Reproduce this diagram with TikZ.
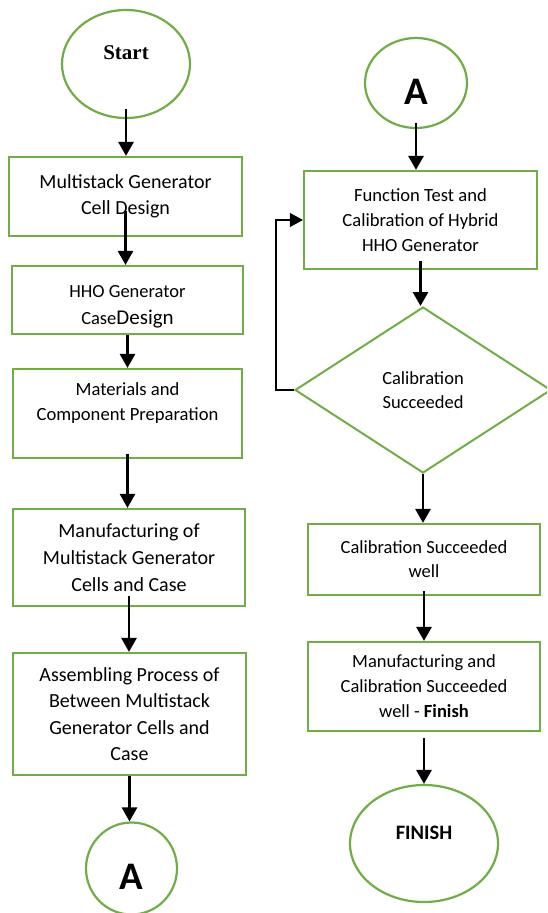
\documentclass[tikz,border=0pt]{standalone}
\usepackage{fontspec}
\setmainfont{Carlito}
\newfontfamily\startfont{Liberation Serif}
\usetikzlibrary{shapes.geometric,arrows.meta}

\definecolor{boxgreen}{RGB}{112,173,71}
\tikzset{
	stepbox/.style={draw=boxgreen,line width=2.2pt,rectangle,align=center,inner sep=0pt},
	term/.style={draw=boxgreen,line width=2.2pt,ellipse,inner sep=0pt},
	decide/.style={draw=boxgreen,line width=2pt,diamond,align=center,inner sep=0pt},
	arr/.style={line width=2.8pt,-{Triangle[width=15pt,length=14pt]}},
	fback/.style={line width=1.3pt,-{Triangle[width=14pt,length=13pt]}}
}

\begin{document}
\begin{tikzpicture}[x=1pt,y=-1pt]
	\useasboundingbox (0,0) rectangle (547,913);
	\clip (0,0) rectangle (547,913);

	%LEFT COLUMN
	\node[term,minimum width=128pt,minimum height=108pt,font=\startfont\bfseries\fontsize{21}{25}\selectfont] (start) at (126,64) {\raisebox{11pt}[\height][\depth]{Start}};
	\node[stepbox,minimum width=233pt,minimum height=79pt,font=\fontsize{20}{26}\selectfont] (cell) at (125.5,196.5) {Multistack Generator\\Cell Design};
	\node[stepbox,minimum width=231pt,minimum height=68pt,text height=52pt,font=\fontsize{18.5}{27}\selectfont] (case) at (127.5,300) {HHO Generator\\Case{\fontsize{21}{27}\selectfont Design}};
	\node[stepbox,minimum width=229pt,minimum height=89pt,text depth=24pt,font=\fontsize{18.6}{25}\selectfont] (prep) at (127.5,413.5) {Materials and\\Component Preparation};
	\node[stepbox,minimum width=232pt,minimum height=97pt,font=\fontsize{20}{27}\selectfont] (manuf) at (129,557.5) {Manufacturing of\\Multistack Generator\\Cells and Case};
	\node[stepbox,minimum width=233pt,minimum height=122pt,font=\fontsize{20}{26.5}\selectfont] (assy) at (129.5,714) {Assembling Process of\\Between Multistack\\Generator Cells and\\Case};
	\node[term,minimum width=91pt,minimum height=92pt,font=\bfseries\fontsize{39}{40}\selectfont] (abot) at (131.5,868.5) {\raisebox{-8pt}[\height][\depth]{A}};

	%RIGHT COLUMN
	\node[term,minimum width=102pt,minimum height=90pt,font=\bfseries\fontsize{39}{40}\selectfont] (atop) at (416,83) {\raisebox{-9pt}[\height][\depth]{A}};
	\node[stepbox,minimum width=233pt,minimum height=98pt,font=\fontsize{18.6}{25}\selectfont] (test) at (420.5,220) {Function Test and\\Calibration of Hybrid\\HHO Generator};
	\node[decide,minimum width=256pt,minimum height=166pt,font=\fontsize{18.5}{24}\selectfont] (dec) at (423,390) {Calibration\\Succeeded};
	\node[stepbox,minimum width=232pt,minimum height=71pt,font=\fontsize{18.5}{24}\selectfont] (okbox) at (424,559.5) {Calibration Succeeded\\well};
	\node[stepbox,minimum width=232pt,minimum height=89pt,font=\fontsize{18.5}{25}\selectfont] (fin) at (424,686.5) {Manufacturing and\\Calibration Succeeded\\well - \textbf{Finish}};
	\node[term,minimum width=148pt,minimum height=117pt,font=\bfseries\fontsize{20.5}{24}\selectfont] (finish) at (424,843.5) {\raisebox{11pt}[\height][\depth]{FINISH}};

	%ARROWS
	\foreach \a/\b/\s in {start/cell/10,cell/case/26,case/prep/0,prep/manuf/5,manuf/assy/11,assy/abot/0,atop/test/6,test/dec/9,dec/okbox/0,okbox/fin/5,fin/finish/-6}
	\draw[arr] ([yshift=\s pt]\a.south) -- (\a.south |- \b.north);
	\draw[fback] (dec.west) -- ++(-18,0) |- (test.west);	%back to test
\end{tikzpicture}
\end{document}
